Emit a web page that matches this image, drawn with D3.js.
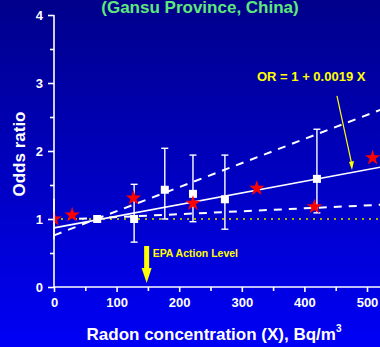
<!DOCTYPE html>
<html>
<head>
<meta charset="utf-8">
<script src="https://cdn.jsdelivr.net/npm/d3@7"></script>
<style>
  body { margin: 0; padding: 0; overflow: hidden; }
  svg { display: block; font-family: "Liberation Sans", Arial, sans-serif; font-weight: bold; }
</style>
</head>
<body>
<div id="my_dataviz"></div>
<script>
// pooled study points (white squares with 95% CI)
var sq_x = [69, 128, 177, 222, 273, 420]
var sq_or = [1.0, 1.0, 1.43, 1.37, 1.29, 1.59]
var sq_lo = [1.0, 0.66, 1.0, 0.96, 0.85, 1.09]
var sq_hi = [1.0, 1.51, 2.04, 1.94, 1.94, 2.32]

// Gansu points (red stars)
var star_x = [0, 29, 127, 222, 324, 416, 509]
var star_or = [1.0, 1.06, 1.31, 1.23, 1.45, 1.18, 1.90]

// fitted line and its limits: [intercept, slope, start x]
var fit_line = [0.87, 0.00171, 0]
var upper_line = [0.76, 0.00354, 0]
var lower_line = [0.985, 0.00043, 40]

var x_ticks = [0, 100, 200, 300, 400, 500]
var y_ticks = [0, 1, 2, 3, 4]
var epa_level = 148

var width = 380, height = 347

var svg = d3.select("#my_dataviz")
  .append("svg")
    .attr("width", width)
    .attr("height", height)

// background gradient, dark navy at top to bright blue at bottom
var grad = svg.append("defs").append("linearGradient")
    .attr("id", "bg")
    .attr("x1", 0).attr("y1", 0).attr("x2", 0).attr("y2", 1)
grad.append("stop").attr("offset", "0%").attr("stop-color", "#00008a")
grad.append("stop").attr("offset", "100%").attr("stop-color", "#0000f6")
svg.append("rect").attr("width", width).attr("height", height).attr("fill", "url(#bg)")

svg.select("defs").append("clipPath").attr("id", "plotclip")
  .append("rect").attr("x", 53).attr("y", 0).attr("width", 400).attr("height", 300)

var x = d3.scaleLinear().domain([0, 500]).range([54, 367])
var y = d3.scaleLinear().domain([0, 4]).range([287, 15])

// y axis
var yAxis = svg.append("g")
    .attr("transform", "translate(54,0)")
    .call(d3.axisLeft(y).tickValues(y_ticks).tickSize(6).tickPadding(5).tickFormat(d3.format("d")))
yAxis.select(".domain").remove()
svg.append("g")
    .attr("transform", "translate(54,0)")
    .call(d3.axisLeft(y).tickValues([0.5, 1.5, 2.5, 3.5]).tickSize(4).tickFormat(""))
  .select(".domain").remove()
svg.append("line")
    .attr("x1", 54).attr("x2", 54).attr("y1", y(4)).attr("y2", y(0))
    .attr("stroke", "white").attr("stroke-width", 1.6)

// x axis
var xAxis = svg.append("g")
    .attr("transform", "translate(0,287)")
    .call(d3.axisBottom(x).tickValues(x_ticks).tickSize(5).tickPadding(6).tickFormat(d3.format("d")))
xAxis.select(".domain").remove()
svg.append("g")
    .attr("transform", "translate(0,287)")
    .call(d3.axisBottom(x).tickValues([50, 150, 250, 350, 450]).tickSize(4).tickFormat(""))
  .select(".domain").remove()
svg.append("line")
    .attr("x1", 54).attr("x2", width).attr("y1", 287).attr("y2", 287)
    .attr("stroke", "white").attr("stroke-width", 1.6)

svg.selectAll(".tick line").attr("stroke", "white").attr("stroke-width", 1.6)
svg.selectAll(".tick text").attr("fill", "white").style("font-size", "13px").style("font-weight", "bold")

// reference OR = 1
var plot = svg.append("g").attr("clip-path", "url(#plotclip)")
plot.append("line")
    .attr("x1", x(0)).attr("x2", x(530)).attr("y1", y(1)).attr("y2", y(1))
    .attr("stroke", "#b0b000").attr("stroke-width", 2).attr("stroke-dasharray", "2,5")

function draw_fit(p, dash, w) {
  var pts = [p[2], 530]
  plot.append("path")
      .datum(pts)
      .attr("fill", "none")
      .attr("stroke", "white")
      .attr("stroke-width", w)
      .attr("stroke-dasharray", dash)
      .attr("d", d3.line()
        .x(function(d) { return x(d) })
        .y(function(d) { return y(p[0] + p[1] * d) }))
}
draw_fit(upper_line, "8,7", 2)
draw_fit(lower_line, "8,7", 2)
draw_fit(fit_line, null, 1.6)

// error bars
sq_x.forEach(function(d, i) {
  if (sq_hi[i] == sq_lo[i]) return
  plot.append("line")
      .attr("x1", x(d)).attr("x2", x(d)).attr("y1", y(sq_lo[i])).attr("y2", y(sq_hi[i]))
      .attr("stroke", "white").attr("stroke-width", 1.4)
  ;[sq_lo[i], sq_hi[i]].forEach(function(v) {
    plot.append("line")
        .attr("x1", x(d) - 3.5).attr("x2", x(d) + 3.5).attr("y1", y(v)).attr("y2", y(v))
        .attr("stroke", "white").attr("stroke-width", 1.4)
  })
})

// squares
plot.selectAll(".sq")
  .data(sq_x)
  .enter().append("rect")
    .attr("x", function(d) { return x(d) - 4 })
    .attr("y", function(d, i) { return y(sq_or[i]) - 4 })
    .attr("width", 8).attr("height", 8)
    .attr("fill", "white")

// stars
var star = d3.symbol().type(d3.symbolStar).size(75)
plot.selectAll(".star")
  .data(star_x)
  .enter().append("path")
    .attr("d", star)
    .attr("transform", function(d, i) { return "translate(" + x(d) + "," + y(star_or[i]) + ")" })
    .attr("fill", "#ff0000")

// redraw y axis line over clipped star
svg.append("line")
    .attr("x1", 54).attr("x2", 54).attr("y1", y(1.3)).attr("y2", y(0.7))
    .attr("stroke", "white").attr("stroke-width", 1.6)

// EPA action level arrow
var ax = x(epa_level)
svg.append("rect")
    .attr("x", ax - 2.5).attr("y", 246).attr("width", 5).attr("height", 24)
    .attr("fill", "#ffff00")
svg.append("path")
    .attr("d", "M" + (ax - 5) + ",268 L" + (ax + 5) + ",268 L" + ax + ",283 Z")
    .attr("fill", "#ffff00")
svg.append("text")
    .attr("x", ax + 6).attr("y", 257)
    .attr("fill", "#ffff00")
    .style("font-size", "10.5px")
    .text("EPA Action Level")

// equation annotation with arrow
svg.append("text")
    .attr("x", 257).attr("y", 81)
    .attr("fill", "#ffff00")
    .style("font-size", "13px")
    .text("OR = 1 + 0.0019 X")
var a0 = [x(452), y(2.81)], a1 = [x(476), y(1.72)]
svg.append("line")
    .attr("x1", a0[0]).attr("y1", a0[1]).attr("x2", a1[0]).attr("y2", a1[1] - 5)
    .attr("stroke", "#ffff00").attr("stroke-width", 1.2)
svg.append("path")
    .attr("d", "M" + (a1[0] - 3) + "," + (a1[1] - 8) + " L" + (a1[0] + 2) + "," + (a1[1] - 9) + " L" + a1[0] + "," + a1[1] + " Z")
    .attr("fill", "#ffff00")

// titles
svg.append("text")
    .attr("x", 200).attr("y", 13)
    .attr("text-anchor", "middle")
    .attr("fill", "#5fe87a")
    .style("font-size", "17px")
    .text("(Gansu Province, China)")

var xt = svg.append("text")
    .attr("x", 214).attr("y", 340)
    .attr("text-anchor", "middle")
    .attr("fill", "white")
    .style("font-size", "17px")
xt.append("tspan").text("Radon concentration (X), Bq/m")
xt.append("tspan").attr("dy", -8).style("font-size", "10px").text("3")

svg.append("text")
    .attr("transform", "translate(25,154) rotate(-90)")
    .attr("text-anchor", "middle")
    .attr("fill", "white")
    .style("font-size", "17px")
    .text("Odds ratio")
</script>
</body>
</html>
